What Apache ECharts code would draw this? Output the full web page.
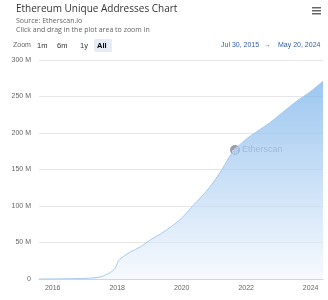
<!DOCTYPE html>
<html>
<head>
<meta charset="utf-8">
<script src="https://cdn.jsdelivr.net/npm/echarts@6/dist/echarts.min.js"></script>
<style>
  html, body { margin: 0; padding: 0; background: #fff; }
  #eChart { width: 328px; height: 300px; }
</style>
</head>
<body>
<div id="eChart"></div>
<script>
// cumulative unique addresses (millions)
var dates = [
  '2015-07-30', '2016-01-01', '2016-07-01', '2017-01-01', '2017-04-01',
  '2017-07-01', '2017-10-15', '2017-12-10', '2018-01-15', '2018-03-15',
  '2018-05-30', '2018-09-20', '2019-01-05', '2019-06-05', '2019-12-10',
  '2020-05-05', '2020-11-15', '2021-04-01', '2021-07-20', '2021-12-15',
  '2022-04-20', '2022-09-25', '2023-02-15', '2023-07-20', '2024-01-01',
  '2024-05-20'
];
var addresses = [
  0, 0.1, 0.4, 0.8, 1.5,
  3, 9, 15, 25, 31,
  37, 44, 53, 64, 81,
  100, 126, 150, 172, 190,
  201, 214, 228, 243, 257,
  271
];
var yearTicks = ['2016-01-01', '2018-01-01', '2020-01-01', '2022-01-01', '2024-01-01'];

function toTime(d) {
  return new Date(d + 'T00:00:00Z').getTime();
}

function drawChart() {
  var mainChart = echarts.init(document.getElementById('eChart'));

  var seriesData = dates.map(function (d, i) {
    return [toTime(d), addresses[i] * 1e6];
  });
  var tickValues = yearTicks.map(toTime);

  var font = 'Liberation Sans';
  var titleFont = 'Open Sans';

  var option = {
    animation: false,
    textStyle: { fontFamily: font },
    title: {
      text: 'Ethereum Unique Addresses Chart',
      subtext: 'Source: Etherscan.io\nClick and drag in the plot area to zoom in',
      left: 16,
      top: 2,
      padding: 0,
      itemGap: 0,
      textStyle: { fontFamily: titleFont, fontSize: 10, fontWeight: 'normal', color: '#333', lineHeight: 14 },
      subtextStyle: { fontFamily: titleFont, fontSize: 7, color: '#666', lineHeight: 9 }
    },
    grid: {
      left: 39,
      right: 5,
      top: 60,
      bottom: 21,
      outerBoundsMode: 'none'
    },
    xAxis: {
      type: 'value',
      min: toTime(dates[0]),
      max: toTime(dates[dates.length - 1]),
      axisLine: { lineStyle: { color: '#ccd6eb' } },
      axisTick: { show: false },
      splitLine: { show: false },
      axisLabel: {
        customValues: tickValues,
        color: '#666',
        fontSize: 7,
        margin: 6,
        formatter: function (v) {
          return String(new Date(v).getUTCFullYear());
        }
      }
    },
    yAxis: {
      type: 'value',
      name: 'Ethereum Cumulative Address Growth',
      nameLocation: 'middle',
      nameGap: 30,
      nameTextStyle: { color: '#666', fontSize: 7 },
      min: 0,
      max: 300e6,
      interval: 50e6,
      axisLine: { show: false },
      axisTick: { show: false },
      splitLine: { lineStyle: { color: '#e6e6e6' } },
      axisLabel: {
        color: '#666',
        fontSize: 7,
        margin: 8,
        formatter: function (v) {
          return v === 0 ? '0' : (v / 1e6) + ' M';
        }
      }
    },
    series: [{
      type: 'line',
      data: seriesData,
      symbol: 'none',
      smooth: 0.3,
      lineStyle: { color: '#a9c9ee', width: 1 },
      areaStyle: {
        color: new echarts.graphic.LinearGradient(0, 0, 0, 1, [
          { offset: 0, color: '#72aee8' },
          { offset: 1, color: '#f3f7fd' }
        ]),
        origin: 'start'
      }
    }],
    graphic: [
      // hamburger menu
      { type: 'rect', left: 312, top: 7, shape: { width: 9, height: 1.5 }, style: { fill: '#666' } },
      { type: 'rect', left: 312, top: 10, shape: { width: 9, height: 1.5 }, style: { fill: '#666' } },
      { type: 'rect', left: 312, top: 13, shape: { width: 9, height: 1.5 }, style: { fill: '#666' } },
      // range selector
      { type: 'text', left: 13, top: 42, style: { text: 'Zoom', fill: '#666', font: '7px ' + font } },
      { type: 'text', left: 37, top: 42, style: { text: '1m', fill: '#333', font: '7.5px ' + font } },
      { type: 'text', left: 57, top: 42, style: { text: '6m', fill: '#333', font: '7.5px ' + font } },
      { type: 'text', left: 80, top: 42, style: { text: '1y', fill: '#333', font: '7.5px ' + font } },
      { type: 'rect', left: 94, top: 39, shape: { width: 18, height: 13, r: 2 }, style: { fill: '#e6ebf5' } },
      { type: 'text', left: 97, top: 42, style: { text: 'All', fill: '#000', font: 'bold 7.5px ' + font } },
      { type: 'text', left: 221, top: 42, style: { text: 'Jul 30, 2015', fill: '#335cad', font: '7px ' + font } },
      { type: 'text', left: 264, top: 42, style: { text: '\u2192', fill: '#666', font: '7px ' + font } },
      { type: 'text', left: 278, top: 42, style: { text: 'May 20, 2024', fill: '#335cad', font: '7px ' + font } },
      // watermark
      {
        type: 'group', left: 230, top: 145, z: 100,
        children: [
          { type: 'circle', shape: { cx: 5, cy: 5, r: 5 }, style: { fill: '#8a8d99', opacity: 0.85 } },
          { type: 'rect', shape: { x: 2.5, y: 5, width: 1.3, height: 3.5 }, style: { fill: '#fff' } },
          { type: 'rect', shape: { x: 4.5, y: 3.5, width: 1.3, height: 5 }, style: { fill: '#fff' } },
          { type: 'rect', shape: { x: 6.5, y: 2, width: 1.3, height: 6.5 }, style: { fill: '#fff' } },
          { type: 'text', x: 12, y: 0.5, style: { text: 'Etherscan', fill: '#8a8d99', opacity: 0.85, font: '9px ' + font } }
        ]
      }
    ]
  };

  mainChart.setOption(option);
}

drawChart();
</script>
</body>
</html>
